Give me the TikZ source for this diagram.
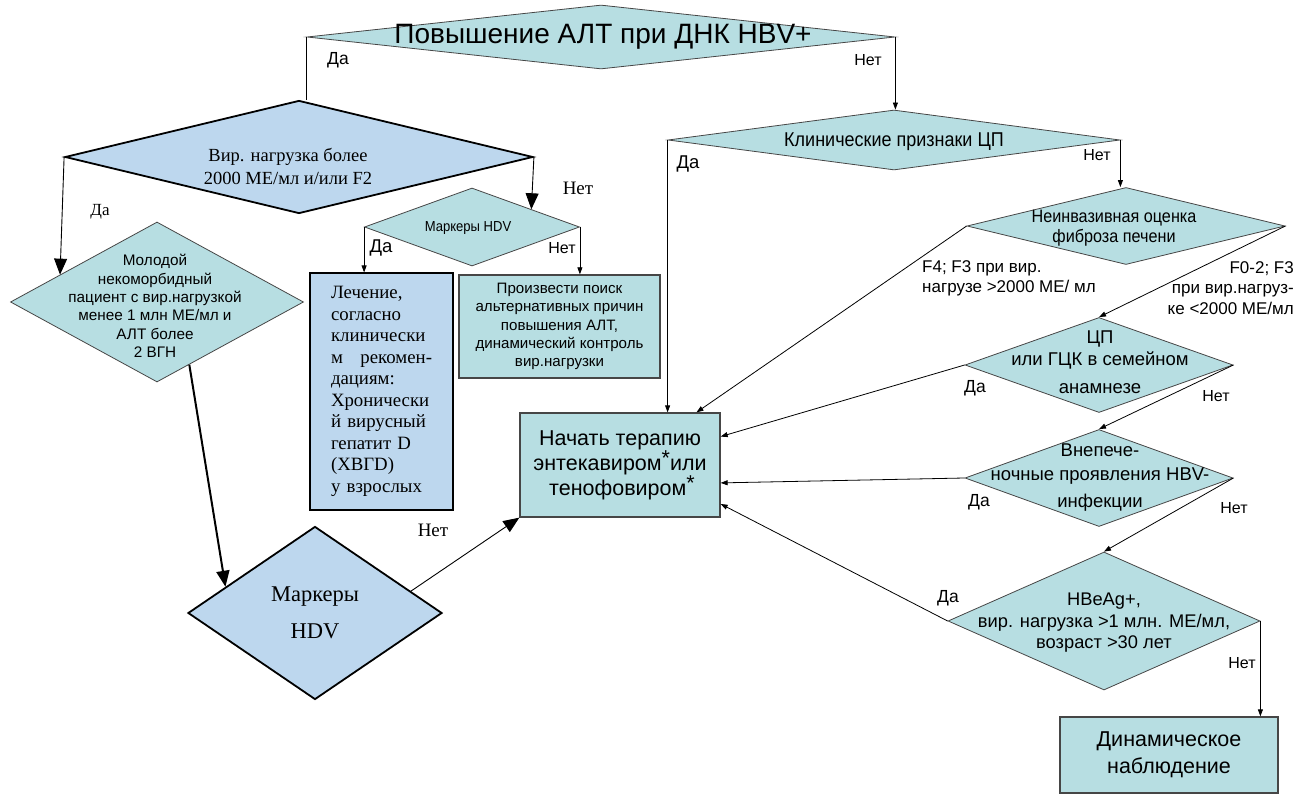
\documentclass[tikz,border=0pt]{standalone}
\usepackage{fontspec}
\setmainfont{Liberation Serif}
\setsansfont{Liberation Sans}
\newfontfamily\narrowsf{Liberation Sans}[FakeStretch=0.9]
\usepackage{tikz}
\usetikzlibrary{positioning,%
  calc,%
  arrows.meta,%
  shapes.geometric%
}
\definecolor{tealfill}{RGB}{183,222,226}
\definecolor{bluefill}{RGB}{189,215,238}
\definecolor{edgegray}{RGB}{70,70,70}
\newcommand{\upstar}{\raisebox{5pt}{*}}

\begin{document}
\begin{tikzpicture}[x=1pt,y=-1pt,
    decision/.style={diamond,draw=edgegray,fill=tealfill,inner sep=0pt,line width=0.8pt},
    bigdecision/.style={diamond,draw=black,fill=bluefill,inner sep=0pt,line width=1.8pt},
    tealbox/.style={rectangle,draw=edgegray,fill=tealfill,line width=1.3pt,inner sep=0pt,align=center},
    bluebox/.style={rectangle,draw=black,fill=bluefill,line width=1.1pt,inner sep=0pt},
    sf/.style={font=\sffamily\fontsize{#1}{1.2\dimexpr#1pt\relax}\selectfont,align=center,inner sep=0pt},
    nsf/.style={font=\narrowsf\fontsize{#1}{1.2\dimexpr#1pt\relax}\selectfont,align=center,inner sep=0pt},
    rm/.style={font=\rmfamily\fontsize{#1}{1.25\dimexpr#1pt\relax}\selectfont,align=center,inner sep=0pt},
    arr/.style={-{Triangle[length=7pt,width=5pt]},line width=0.8pt},
    bigarr/.style={-{Triangle[length=16pt,width=13pt]},line width=0.9pt}]
  \useasboundingbox (0,0) rectangle (1307,794);

  % decisions
  \node[decision, minimum width=588, minimum height=64] (alt) at (601,37) {};
  \node[sf=28] (alt-t) at (603,37) {Повышение АЛТ при ДНК HBV+};
  \node[bigdecision, minimum width=468, minimum height=113] (vir) at (299,157) {};
  \node[rm=18.5, font=\rmfamily\fontsize{18.5}{23}\selectfont] (vir-t) at (288,166) {Вир. нагрузка более\\2000 МЕ/мл и/или F2};
  \node[decision, minimum width=215, minimum height=78] (hdv1) at (472,227) {};
  \node[nsf=14.5] (hdv1-t) at (468,228) {Маркеры HDV};
  \node[decision, minimum width=293, minimum height=160] (mol) at (157,302) {};
  \node[sf=15.3, font=\sffamily\fontsize{15.3}{18.4}\selectfont] (mol-t) at (155,306)
    {Молодой\\некоморбидный\\пациент с вир.нагрузкой\\менее 1 млн МЕ/мл и\\АЛТ более\\2 ВГН};
  \node[bigdecision, minimum width=254, minimum height=173] (hdv2) at (315,613) {};
  \node[rm=22.5, font=\rmfamily\fontsize{22.5}{37}\selectfont] (hdv2-t) at (315,613) {Маркеры\\HDV};

  \node[decision, minimum width=452, minimum height=60] (klin) at (894,140) {};
  \node[nsf=20] (klin-t) at (894,142) {Клинические признаки ЦП};
  \node[decision, minimum width=318, minimum height=77] (neinv) at (1126,226) {};
  \node[nsf=18, font=\narrowsf\fontsize{18}{20.5}\selectfont] (neinv-t) at (1114,228) {Неинвазивная оценка\\фиброза печени};
  \node[decision, minimum width=268, minimum height=95] (cp) at (1099,365) {};
  \node[sf=18.5, font=\sffamily\fontsize{18.5}{22}\selectfont] (cp-t) at (1100,362) {ЦП\\или ГЦК в семейном\\[6pt]анамнезе};
  \node[decision, minimum width=268, minimum height=97] (vne) at (1099,478) {};
  \node[sf=18.5, font=\sffamily\fontsize{18.5}{24}\selectfont] (vne-t) at (1100,478) {Внепече-\\ночные проявления HBV-\\[3pt]инфекции};
  \node[decision, minimum width=312, minimum height=138] (hbe) at (1104,621) {};
  \node[sf=18.3, font=\sffamily\fontsize{18.3}{21.5}\selectfont] (hbe-t) at (1104,623)
    {HBeAg+,\\вир. нагрузка >1 млн. МЕ/мл,\\возраст >30 лет};

  % boxes
  \node[bluebox, minimum width=143, minimum height=237, text width=101, align=left,
    font=\rmfamily\fontsize{18.8}{21.5}\selectfont] (lech) at (381.5,391.5)
    {Лечение,\\согласно\\клинически\\м\hfill рекомен-\\дациям:\\Хронически\\й вирусный\\гепатит D\\(ХВГD)\\у взрослых};
  \node[tealbox, minimum width=201, minimum height=103,
    font=\sffamily\fontsize{15.1}{18.2}\selectfont] (poisk) at (559.5,326.5)
    {Произвести поиск\\альтернативных причин\\повышения АЛТ,\\динамический контроль\\вир.нагрузки};
  \node[tealbox, minimum width=200, minimum height=104,
    font=\sffamily\fontsize{21.5}{25}\selectfont] (nachat) at (620,465)
    {Начать терапию\\энтекавиром\upstar или\\\hspace*{4pt}тенофовиром\upstar};
  \node[tealbox, minimum width=218, minimum height=76,
    font=\sffamily\fontsize{21.5}{27}\selectfont] (dyn) at (1169,755)
    {Динамическое\\наблюдение};

  % connectors
  \draw[line width=0.8pt] (alt.west) -- (alt.west |- vir.north);
  \draw[arr] (alt.east) -- (alt.east |- klin.north);
  \draw[bigarr] (vir.west) -- ($(mol.west)!0.34!(mol.north)$);
  \draw[bigarr] (vir.east) -- ($(hdv1.north)!0.55!(hdv1.east)$);
  \draw[arr] (hdv1.west) -- (hdv1.west |- lech.north);
  \draw[arr] (hdv1.east) -- (hdv1.east |- poisk.north);
  \draw[bigarr, line width=2pt] ($(mol.south)!0.22!(mol.east)$) -- ($(hdv2.west)!0.3!(hdv2.north)$);
  \draw[bigarr] ($(hdv2.north)!0.75!(hdv2.east)$) -- (nachat.south west);

  \draw[arr] (klin.west) -- (klin.west |- nachat.north);
  \draw[arr] (klin.east) -- (klin.east |- neinv.north);
  \draw[arr] (neinv.west) -- ($(nachat.north east)!0.12!(nachat.north west)$);
  \draw[arr] (neinv.east) -- (cp.north);
  \draw[arr] (cp.west) -- ($(nachat.north east)!0.23!(nachat.south east)$);
  \draw[arr] (cp.east) -- (vne.north);
  \draw[arr] (vne.west) -- ($(nachat.north east)!0.67!(nachat.south east)$);
  \draw[arr] (vne.east) -- (hbe.north);
  \draw[arr] (hbe.west) -- ($(nachat.north east)!0.87!(nachat.south east)$);
  \draw[arr] (hbe.east) -- (hbe.east |- dyn.north);

  % branch labels
  \node[sf=17.5] (l-alt-da) at (338,60) {Да};
  \node[sf=16] (l-alt-net) at (868,60) {Нет};
  \node[rm=17] (l-vir-da) at (100,212) {Да};
  \node[rm=19] (l-vir-net) at (578,188) {Нет};
  \node[sf=18.5] (l-hdv-da) at (381,248) {Да};
  \node[sf=16] (l-hdv-net) at (562,248) {Нет};
  \node[rm=19] (l-hdv2-net) at (433,530) {Нет};
  \node[sf=18.5] (l-klin-da) at (688,164) {Да};
  \node[sf=16] (l-klin-net) at (1097,155) {Нет};
  \node[sf=17, align=left, anchor=west, font=\sffamily\fontsize{17}{20}\selectfont] (l-f4) at (922,278)
    {F4; F3 при вир.\\нагрузе >2000 МЕ/ мл};
  \node[sf=17, align=right, anchor=east, font=\sffamily\fontsize{17}{20.5}\selectfont] (l-f0) at (1294,288)
    {F0-2; F3\\при вир.нагруз-\\ке <2000 МЕ/мл};
  \node[sf=17.5] (l-cp-da) at (975,388) {Да};
  \node[sf=16] (l-cp-net) at (1216,396) {Нет};
  \node[sf=17.5] (l-vne-da) at (979,502) {Да};
  \node[sf=16] (l-vne-net) at (1234,508) {Нет};
  \node[sf=17.5] (l-hbe-da) at (948,598) {Да};
  \node[sf=16] (l-hbe-net) at (1242,663) {Нет};
\end{tikzpicture}
\end{document}
